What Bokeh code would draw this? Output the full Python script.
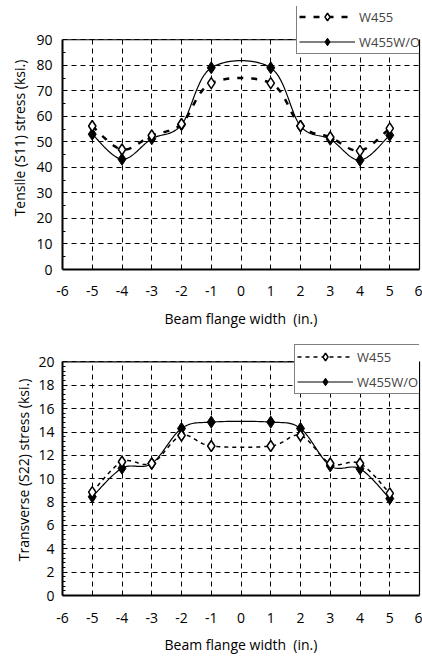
import numpy as np
from bokeh.plotting import figure
from bokeh.layouts import column
from bokeh.models import Legend, LegendItem, FixedTicker, Range1d, LinearAxis, Span
from bokeh.embed import file_html
from bokeh.resources import INLINE

# ---------------- data ----------------
x_pos = [-5, -4, -3, -2, -1, 1, 2, 3, 4, 5]
s11_w455 = [56.2, 47.0, 52.5, 57.0, 73.0, 73.0, 56.2, 51.8, 46.5, 55.3]
s11_w455wo = [53.0, 43.2, 51.2, 56.7, 79.0, 79.0, 56.2, 51.0, 42.8, 52.6]
s22_w455 = [8.85, 11.45, 11.3, 13.7, 12.8, 12.8, 13.7, 11.3, 11.3, 8.75]
s22_w455wo = [8.45, 10.9, 11.3, 14.3, 14.85, 14.85, 14.3, 11.1, 10.85, 8.3]
x_ticks = list(range(-6, 7))
s11_ticks = list(range(0, 91, 10))
s22_ticks = list(range(0, 21, 2))
series_names = ["W455", "W455W/O"]
FONT = "Open Sans"


def smooth(xs, ys, n=24):
    """Catmull-Rom (Excel-like) smoothed path through the data points."""
    N = len(xs)
    px, py = [], []
    for i in range(N - 1):
        x0, y0 = xs[max(i - 1, 0)], ys[max(i - 1, 0)]
        x1, y1 = xs[i], ys[i]
        x2, y2 = xs[i + 1], ys[i + 1]
        x3, y3 = xs[min(i + 2, N - 1)], ys[min(i + 2, N - 1)]
        c1x, c1y = x1 + (x2 - x0) / 6, y1 + (y2 - y0) / 6
        c2x, c2y = x2 - (x3 - x1) / 6, y2 - (y3 - y1) / 6
        for t in np.linspace(0, 1, n, endpoint=(i == N - 2)):
            a, b, c, d = (1 - t) ** 3, 3 * (1 - t) ** 2 * t, 3 * (1 - t) * t ** 2, t ** 3
            px.append(a * x1 + b * c1x + c * c2x + d * x2)
            py.append(a * y1 + b * c1y + c * c2y + d * y2)
    return px, py


def make_fig(h, ylabel, ymax, yticks, yminor, s_a, s_b, dash_a, dash_w,
             borders, chart_top, leg_loc, x_standoff, y_standoff, xl_standoff, yl_standoff):
    # borders: left, top of (extended) frame, bottom, right; chart_top: y of the chart's top edge
    bl, bt, bb, br = borders
    chart_h = h - bb - chart_top
    y_end = ymax + (chart_top - bt) / chart_h * ymax   # head-room above the chart for the legend
    p = figure(width=422, height=h, x_range=Range1d(-6, 6), y_range=Range1d(0, y_end),
               output_backend="svg", toolbar_location=None,
               min_border_left=bl, min_border_right=br,
               min_border_top=bt, min_border_bottom=bb)
    p.background_fill_color = "white"
    p.border_fill_color = "white"
    p.outline_line_color = None

    p.xaxis.ticker = FixedTicker(ticks=x_ticks)
    p.xaxis.major_label_overrides = {t: str(t) for t in x_ticks}
    p.yaxis.ticker = FixedTicker(ticks=yticks, minor_ticks=yminor)
    p.yaxis.bounds = (0, ymax)
    for ax in (p.xaxis, p.yaxis):
        ax.axis_line_width = 2
        ax.axis_line_color = "black"
        ax.major_tick_in = 0
        ax.major_tick_out = 0
        ax.minor_tick_out = 0
        ax.major_label_text_font = FONT
        ax.major_label_text_font_size = "14px"
        ax.major_label_text_color = "black"
        ax.axis_label_text_font = FONT
        ax.axis_label_text_font_size = "14px"
        ax.axis_label_text_font_style = "normal"
        ax.axis_label_text_color = "black"
    p.yaxis.minor_tick_in = 3
    p.yaxis.minor_tick_line_color = "black"
    p.xaxis.minor_tick_line_color = None
    p.xaxis.major_label_standoff = x_standoff
    p.yaxis.major_label_standoff = y_standoff
    p.xaxis.axis_label = "Beam flange width\u00a0 (in.)"
    p.yaxis.axis_label = ylabel
    p.xaxis.axis_label_standoff = xl_standoff
    p.yaxis.axis_label_standoff = yl_standoff

    # right and top edges of the chart box
    right = LinearAxis(ticker=FixedTicker(ticks=[]), bounds=(0, ymax), axis_line_width=1.2,
                       axis_line_color="black", major_tick_in=0, major_tick_out=0,
                       minor_tick_in=0, minor_tick_out=0, major_label_standoff=0)
    right.major_label_text_font_size = "0px"
    p.add_layout(right, "right")
    p.add_layout(Span(location=ymax, dimension="width", line_color="black", line_width=1.2))

    p.xgrid.ticker = FixedTicker(ticks=x_ticks)
    p.ygrid.ticker = FixedTicker(ticks=yticks)
    p.xgrid.cross_bounds = (0, ymax)
    for g in (p.xgrid, p.ygrid):
        g.grid_line_color = "black"
        g.grid_line_dash = "5 4"
        g.grid_line_width = 1

    ax_, ay_ = smooth(x_pos, s_a)
    bx_, by_ = smooth(x_pos, s_b)
    la = p.line(ax_, ay_, line_color="black", line_width=dash_w, line_dash=dash_a)
    lb = p.line(bx_, by_, line_color="black", line_width=1.2)
    mb = p.scatter(x_pos, s_b, marker="diamond", size=12, fill_color="black", line_color="black")
    ma = p.scatter(x_pos, s_a, marker="diamond", size=11, fill_color="white",
                   line_color="black", line_width=1.5)

    legend = Legend(items=[LegendItem(label=series_names[0], renderers=[la, ma]),
                           LegendItem(label=series_names[1], renderers=[lb, mb])],
                    location=leg_loc, border_line_color="black", border_line_width=1.6,
                    background_fill_color="white", background_fill_alpha=1,
                    label_text_font=FONT, label_text_font_size="13px",
                    glyph_width=56, glyph_height=19, label_height=19,
                    spacing=6, padding=2, margin=0, label_standoff=4)
    p.add_layout(legend)
    return p


top = make_fig(330, "Tensile (S11) stress (ksi.)", 90, s11_ticks, [5 + 10 * i for i in range(9)],
               s11_w455, s11_w455wo, "6 8", 2.5, (62, 6, 55, 0), 40, (234, 215),
               16, 10, 10, 4)
bottom = make_fig(326, "Transverse (S22) stress (ksi.)", 20, s22_ticks,
                  [round(0.4 * i, 1) for i in range(51)],
                  s22_w455, s22_w455wo, "4 4", 1.5, (59, 14, 53, 3), 32, (232, 201),
                  17, 8, 9, 2)

layout = column(top, bottom, spacing=0)
open("out.html", "w").write(file_html(layout, INLINE))
